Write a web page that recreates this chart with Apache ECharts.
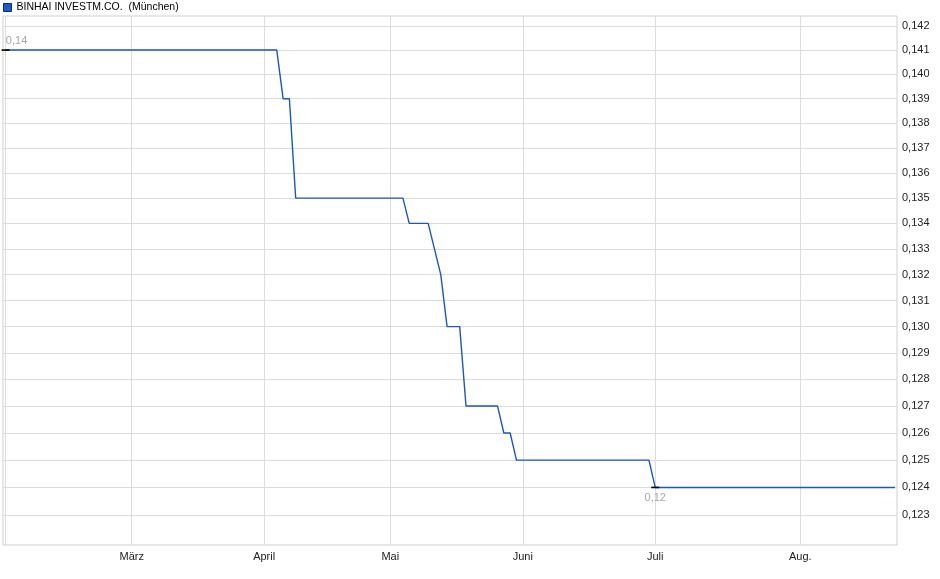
<!DOCTYPE html>
<html><head><meta charset="utf-8">
<script src="https://cdn.jsdelivr.net/npm/echarts@6/dist/echarts.min.js"></script>
<style>html,body{margin:0;padding:0;background:#fff}#c{width:940px;height:579px}</style>
</head><body><div id="c"></div>
<script>
const seriesName = 'BINHAI INVESTM.CO.  (München)';
const firstDay = '2025-02-03';
const lastDay = '2025-08-22';
const holidays = ['2025-04-18', '2025-04-21', '2025-05-01'];
const priceDates = ['2025-02-03','2025-04-03','2025-04-04','2025-04-07','2025-04-08','2025-05-06','2025-05-07','2025-05-12','2025-05-13','2025-05-14','2025-05-15','2025-05-19','2025-05-20','2025-05-27','2025-05-28','2025-05-29','2025-05-30','2025-06-30','2025-07-01','2025-08-22'];
const prices = [0.141,0.141,0.139,0.139,0.135,0.135,0.134,0.134,0.133,0.132,0.130,0.130,0.127,0.127,0.126,0.126,0.125,0.125,0.124,0.124];
const monthNames = ['Jan.','Feb.','März','April','Mai','Juni','Juli','Aug.','Sep.','Okt.','Nov.','Dez.'];
const yTicks = [0.123,0.124,0.125,0.126,0.127,0.128,0.129,0.130,0.131,0.132,0.133,0.134,0.135,0.136,0.137,0.138,0.139,0.140,0.141,0.142];

// trading-day calendar (category positions of the x axis)
const tradingDays = [];
for (let t = Date.parse(firstDay + 'T00:00:00Z'); t <= Date.parse(lastDay + 'T00:00:00Z'); t += 86400000) {
  const d = new Date(t);
  const iso = d.toISOString().slice(0, 10);
  const wd = d.getUTCDay();
  if (wd === 0 || wd === 6 || holidays.indexOf(iso) >= 0) continue;
  tradingDays.push(iso);
}
const monthStarts = [];
tradingDays.forEach((d, i) => {
  if (i === 0 || d.slice(5, 7) !== tradingDays[i - 1].slice(5, 7)) monthStarts.push(i);
});
const lineData = priceDates.map((d, i) => [tradingDays.indexOf(d), prices[i]]);
const fmtComma = (v, n) => v.toFixed(n).replace('.', ',');

const chart = echarts.init(document.getElementById('c'), null, {renderer: 'canvas'});
chart.setOption({
  animation: false,
  backgroundColor: '#fff',
  textStyle: {fontFamily: 'Liberation Sans, Arial, sans-serif'},
  legend: {
    data: [seriesName], left: 3, top: 2, padding: 0,
    itemWidth: 8, itemHeight: 8, icon: 'rect',
    itemStyle: {borderColor: '#0c2d6e', borderWidth: 1},
    textStyle: {fontSize: 10.5, color: '#000', fontFamily: 'Liberation Sans, Arial, sans-serif'}
  },
  grid: {left: 3, right: 43, top: 16, bottom: 34, show: true, borderColor: '#cfcfcf', borderWidth: 1, containLabel: false},
  xAxis: {
    type: 'value',
    min: -0.404,
    max: tradingDays.length - 1 + 0.33,
    axisLine: {show: false},
    axisTick: {show: false, customValues: monthStarts},
    axisLabel: {
      customValues: monthStarts.slice(1),
      formatter: v => monthNames[parseInt(tradingDays[Math.round(v)].slice(5, 7), 10) - 1],
      fontSize: 11, color: '#222', margin: 6
    },
    splitLine: {show: true, lineStyle: {color: '#dcdcdc', width: 1}}
  },
  yAxis: {
    type: 'log',
    logBase: 10,
    position: 'right',
    min: 0.121921,
    max: 0.142418,
    axisLine: {show: false},
    axisTick: {show: false, customValues: yTicks},
    axisLabel: {customValues: yTicks, formatter: v => fmtComma(v, 3), fontSize: 11, color: '#222', margin: 5},
    splitLine: {show: true, lineStyle: {color: '#dcdcdc', width: 1}}
  },
  series: [{
    name: seriesName,
    type: 'line',
    data: lineData,
    symbol: 'none',
    z: 3,
    itemStyle: {color: '#1f5bc6'},
    lineStyle: {color: '#1a56c4', width: 1.4},
    markPoint: {
      z: 10,
      symbol: 'rect',
      symbolSize: [8, 1.6],
      itemStyle: {color: '#000'},
      label: {formatter: p => fmtComma(p.value, 2), color: '#a8a8a8', fontSize: 11},
      data: [
        {type: 'max', label: {position: 'top', distance: 3, offset: [11, 0]}},
        {type: 'min', label: {position: 'bottom', distance: 4}}
      ]
    }
  }]
});
</script>
</body></html>
